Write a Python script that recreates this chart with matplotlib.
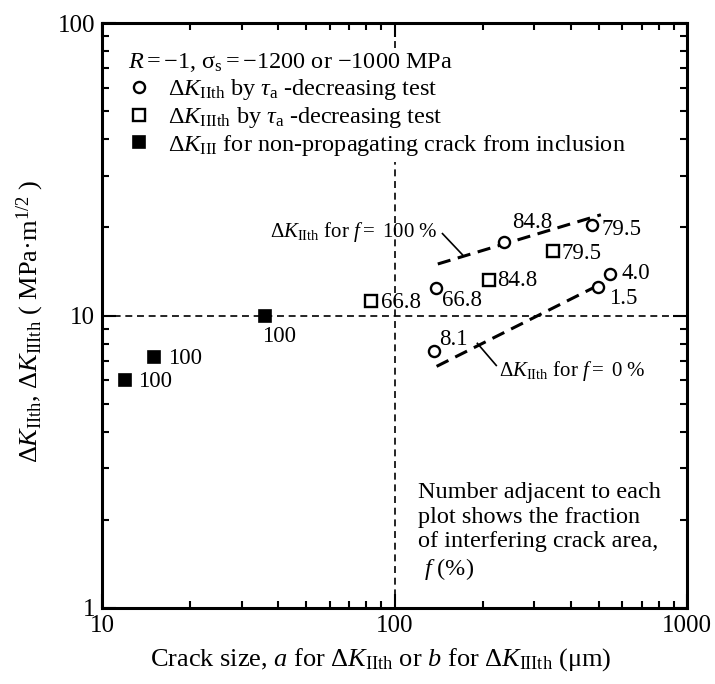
import matplotlib
matplotlib.use("Agg")
import matplotlib.pyplot as plt
from matplotlib.ticker import FixedLocator, NullFormatter, FixedFormatter, LogLocator

plt.rcParams['font.family'] = ['Liberation Serif', 'DejaVu Serif']
plt.rcParams['mathtext.fontset'] = 'custom'
plt.rcParams['mathtext.rm'] = 'Liberation Serif'
plt.rcParams['mathtext.it'] = 'Liberation Serif:italic'
plt.rcParams['mathtext.bf'] = 'Liberation Serif:bold'
plt.rcParams['lines.scale_dashes'] = False

# ---- data ----
# Delta K_IIth by tau_a-decreasing test (open circles)
circ_x = [136, 139, 236, 475, 497, 546]
circ_y = [7.55, 12.4, 17.9, 20.4, 12.55, 13.9]
circ_f = ["8.1", "66.8", "84.8", "79.5", "1.5", "4.0"]

# Delta K_IIIth by tau_a-decreasing test (open squares)
sq_x = [83, 210, 349]
sq_y = [11.25, 13.25, 16.6]
sq_f = ["66.8", "84.8", "79.5"]

# Delta K_III for non-propagating crack from inclusion (filled squares)
fill_x = [12, 15, 36]
fill_y = [6.0, 7.2, 10.0]
fill_f = ["100", "100", "100"]

# trend lines
f100_x = [140.6, 507.6]
f100_y = [15.0, 22.1]
f0_x = [139.3, 475.5]
f0_y = [6.7, 12.4]

x_ticks = [10, 100, 1000]
x_ticklabels = ["10", "100", "1000"]
y_ticks = [1, 10, 100]
y_ticklabels = ["1", "10", "100"]

# label offsets (points) for each number label
circ_off = [(4.3, 8.6, 'left'), (4.3, -8.6, 'left'), (6.5, 13.7, 'left'),
            (6.5, -3.0, 'left'), (8.0, -8.6, 'left'), (8.0, 0.0, 'left')]
sq_off = [(7.0, -1.5, 'left'), (6.0, -0.5, 'left'), (6.0, -1.5, 'left')]
fill_off = [(9.4, -0.8, 'left'), (10.5, -1.0, 'left'), (10.0, -15.0, 'center')]

W, H = 715, 684
fig = plt.figure(figsize=(W / 100, H / 100), dpi=100)
L, R, T, B = 102, 687, 23, 608
ax = fig.add_axes([L / W, 1 - B / H, (R - L) / W, (B - T) / H])
ax.set_xscale('log')
ax.set_yscale('log')
ax.set_xlim(10, 1000)
ax.set_ylim(1, 100)

# reference lines
ax.axhline(10, color='black', lw=1.2, ls=(0, (5, 3.4)), zorder=1)
ax.axvline(100, color='black', lw=1.2, ls=(0, (5, 3.4)), zorder=1)

# trend lines
ax.plot(f100_x, f100_y, color='black', lw=2.2, ls=(0, (9.5, 5.5)), zorder=2)
ax.plot(f0_x, f0_y, color='black', lw=2.2, ls=(0, (9.5, 5.5)), zorder=2)

h1, = ax.plot(circ_x, circ_y, ls='none', marker='o', ms=8, mew=1.7,
              mfc='white', mec='black', zorder=3)
h2, = ax.plot(sq_x, sq_y, ls='none', marker='s', ms=8.2, mew=1.7,
              mfc='white', mec='black', zorder=3)
h3, = ax.plot(fill_x, fill_y, ls='none', marker='s', ms=8.8, mew=1.2,
              mfc='black', mec='black', zorder=3)

NFS = 16.5
for xs, ys, labs, offs in [(circ_x, circ_y, circ_f, circ_off),
                           (sq_x, sq_y, sq_f, sq_off),
                           (fill_x, fill_y, fill_f, fill_off)]:
    for x, y, s, (dx, dy, ha) in zip(xs, ys, labs, offs):
        ax.annotate(s, (x, y), xytext=(dx, dy), textcoords='offset points',
                    ha=ha, va='center', fontsize=NFS)

# annotations for the trend lines
ax.plot([145.9, 170.6], [19.05, 16.15], color='black', lw=1.2)
ax.text(140.2, 19.3, r"$\Delta K_\mathrm{IIth}$ for $f=$ 100 %", ha='right',
        va='center', fontsize=15)
ax.plot([192, 222.8], [8.03, 6.75], color='black', lw=1.2)
ax.text(228, 6.45, r"$\Delta K_\mathrm{IIth}$ for $f=$ 0 %", ha='left',
        va='center', fontsize=15)

# legend
leg = ax.legend([h1, h2, h3],
                [r"$\Delta K_\mathrm{IIth}$ by $\tau_\mathrm{a}$ -decreasing test",
                 r"$\Delta K_\mathrm{IIIth}$ by $\tau_\mathrm{a}$ -decreasing test",
                 r"$\Delta K_\mathrm{III}$ for non-propagating crack from inclusion"],
                title=r"$R=-1$, $\mathrm{\sigma_s}=-1200$ or $-1000$ MPa",
                loc='upper left', bbox_to_anchor=(0.038, 0.958), frameon=True,
                fancybox=False, fontsize=17.5, title_fontsize=17.5,
                handlelength=0.9, handletextpad=0.75, labelspacing=0.12,
                borderpad=0.15, borderaxespad=0.0, alignment='left')
leg.get_frame().set_facecolor('white')
leg.get_frame().set_edgecolor('none')
leg.get_frame().set_alpha(1.0)

# note
fig.text(418 / W, 1 - 482 / H, "Number adjacent to each\nplot shows the fraction\n"
         "of interfering crack area,\n $f$ (%)", ha='left', va='top',
         fontsize=17.5, linespacing=1.22)

# axes styling
for sp in ax.spines.values():
    sp.set_linewidth(2.2)
ax.tick_params(which='both', direction='in', top=True, right=True,
               width=1.5, labelsize=18)
ax.tick_params(which='major', length=10, pad=5)
ax.tick_params(which='minor', length=5)
ax.xaxis.set_major_locator(FixedLocator(x_ticks))
ax.xaxis.set_major_formatter(FixedFormatter(x_ticklabels))
ax.yaxis.set_major_locator(FixedLocator(y_ticks))
ax.yaxis.set_major_formatter(FixedFormatter(y_ticklabels))
ax.xaxis.set_minor_locator(LogLocator(base=10, subs=range(2, 10)))
ax.yaxis.set_minor_locator(LogLocator(base=10, subs=range(2, 10)))
ax.xaxis.set_minor_formatter(NullFormatter())
ax.yaxis.set_minor_formatter(NullFormatter())

fig.text(381 / W, 1 - 660 / H,
         r"Crack size, $a$ for $\Delta K_\mathrm{IIth}$ or $b$ for $\Delta K_\mathrm{IIIth}$ (μm)",
         ha='center', va='center', fontsize=19)
fig.text(30 / W, 1 - 321 / H,
         r"$\Delta K_\mathrm{IIth}$, $\Delta K_\mathrm{IIIth}$ ( MPa·m$^{1/2}$ )",
         ha='center', va='center', rotation=90, fontsize=19)

fig.savefig("out.png", dpi=100)
